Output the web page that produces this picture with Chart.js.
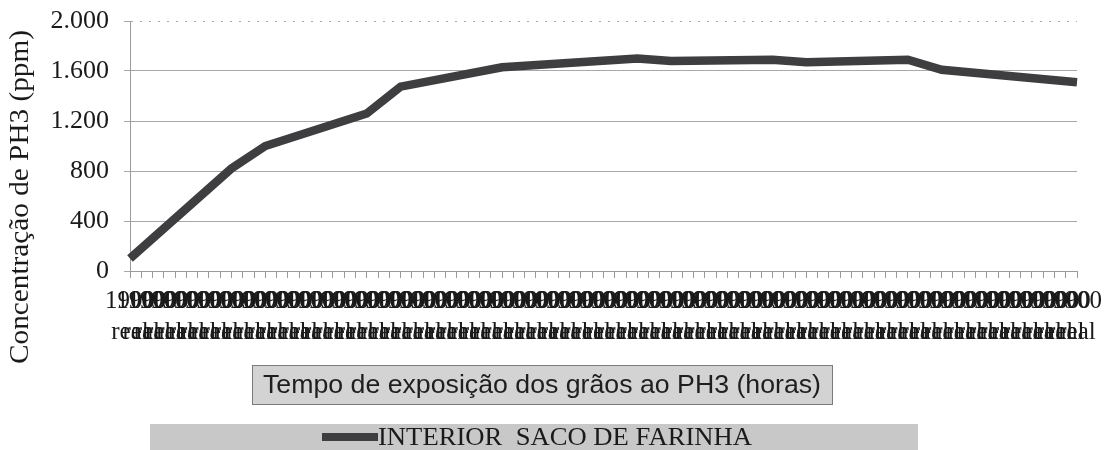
<!DOCTYPE html>
<html>
<head>
<meta charset="utf-8">
<script src="https://cdn.jsdelivr.net/npm/chart.js@4.4.1/dist/chart.umd.min.js"></script>
<style>
  html, body { margin: 0; padding: 0; background: #ffffff; }
  #wrap { width: 1105px; height: 450px; position: relative; }
</style>
</head>
<body>
<div id="wrap"><canvas id="c" width="1105" height="450"></canvas></div>
<script>
// Hourly category slots along the exposure axis
const categoryCount = 85;
const tickTop = '1900';
const tickBottom = 'real';

// Readings: slot index and PH3 concentration (ppm)
const measuredAt = [0, 9, 12, 21, 24, 33, 45, 48, 57, 60, 69, 72, 84];
const concentration = [100, 820, 1000, 1260, 1475, 1630, 1700, 1680, 1690, 1670, 1690, 1610, 1510];

// Value axis
const yTickLabels = ['0', '400', '800', '1.200', '1.600', '2.000'];
const yStep = 400;
const yMax = 2000;

const yTitle = 'Concentração de PH3 (ppm)';
const xTitle = 'Tempo de exposição dos grãos ao PH3 (horas)';
const seriesName = 'INTERIOR  SACO DE FARINHA';

const labels = Array.from({ length: categoryCount }, () => [tickTop, tickBottom]);
const series = labels.map(() => null);
measuredAt.forEach((slot, i) => { series[slot] = concentration[i]; });

const lineColor = '#3e3e40';
const serif = "'Liberation Serif', 'Times New Roman', serif";
const sans = "'Liberation Sans', Arial, sans-serif";

// Draws text stretched horizontally so it spans the given width
function fitText(ctx, text, x, y, width, align) {
  const w = ctx.measureText(text).width;
  const k = width / w;
  ctx.save();
  ctx.translate(x, y);
  ctx.scale(k, 1);
  ctx.textAlign = align;
  ctx.fillText(text, 0, 0);
  ctx.restore();
}

const decorations = {
  id: 'decorations',
  afterDraw(chart) {
    const ctx = chart.ctx;
    ctx.save();
    ctx.textBaseline = 'middle';

    // vertical axis title
    ctx.save();
    ctx.translate(21, 197);
    ctx.rotate(-Math.PI / 2);
    ctx.font = '28px ' + serif;
    ctx.fillStyle = '#1a1a1a';
    fitText(ctx, yTitle, 0, 0, 334, 'center');
    ctx.restore();

    // horizontal axis title in a shaded box
    ctx.fillStyle = '#d3d3d3';
    ctx.fillRect(252.5, 365.5, 580, 39);
    ctx.strokeStyle = '#7a7a7a';
    ctx.lineWidth = 1;
    ctx.strokeRect(252.5, 365.5, 580, 39);
    ctx.font = '25px ' + sans;
    ctx.fillStyle = '#1e1e1e';
    fitText(ctx, xTitle, 542, 386, 558, 'center');

    // legend strip
    ctx.fillStyle = '#c8c8c8';
    ctx.fillRect(150, 424, 768, 26);
    ctx.strokeStyle = lineColor;
    ctx.lineWidth = 8;
    ctx.beginPath();
    ctx.moveTo(322, 437);
    ctx.lineTo(378, 437);
    ctx.stroke();
    ctx.font = '26px ' + serif;
    ctx.fillStyle = '#1a1a1a';
    fitText(ctx, seriesName, 378, 438, 374, 'left');

    ctx.restore();
  }
};

new Chart(document.getElementById('c'), {
  type: 'line',
  data: {
    labels: labels,
    datasets: [{
      label: seriesName,
      data: series,
      borderColor: lineColor,
      backgroundColor: lineColor,
      borderWidth: 8.5,
      pointRadius: 0,
      pointHoverRadius: 0,
      spanGaps: true,
      tension: 0,
      fill: false
    }]
  },
  options: {
    responsive: false,
    animation: false,
    devicePixelRatio: 1,
    layout: { padding: { top: 21, left: 0, right: 28, bottom: 99 } },
    plugins: {
      legend: { display: false },
      tooltip: { enabled: false }
    },
    scales: {
      x: {
        type: 'category',
        offset: false,
        grid: { display: true, drawOnChartArea: false, drawTicks: true, tickLength: 7, color: '#9a9a9a', lineWidth: 1 },
        border: { display: true, color: '#9a9a9a', width: 1 },
        ticks: {
          autoSkip: false,
          maxRotation: 0,
          minRotation: 0,
          padding: 8,
          color: '#1a1a1a',
          font: { family: serif, size: 25, lineHeight: 1.24 }
        },
        afterFit(scale) {
          scale.height = 80;
          scale.paddingLeft = 0;
          scale.paddingRight = 0;
        }
      },
      y: {
        min: 0,
        max: yMax,
        grid: { color: '#a8a8a8', lineWidth: 1, drawTicks: true, tickLength: 6 },
        border: {
          display: true,
          color: '#9a9a9a',
          dash: (ctx) => (ctx.tick && ctx.tick.value === yMax ? [2, 7] : [])
        },
        ticks: {
          stepSize: yStep,
          padding: 15,
          color: '#1a1a1a',
          font: { family: serif, size: 26 },
          callback: (v) => yTickLabels[Math.round(v / yStep)]
        },
        afterFit(scale) {
          scale.width = 130;
          scale.paddingTop = 0;
          scale.paddingBottom = 0;
        }
      }
    }
  },
  plugins: [decorations]
});
</script>
</body>
</html>
